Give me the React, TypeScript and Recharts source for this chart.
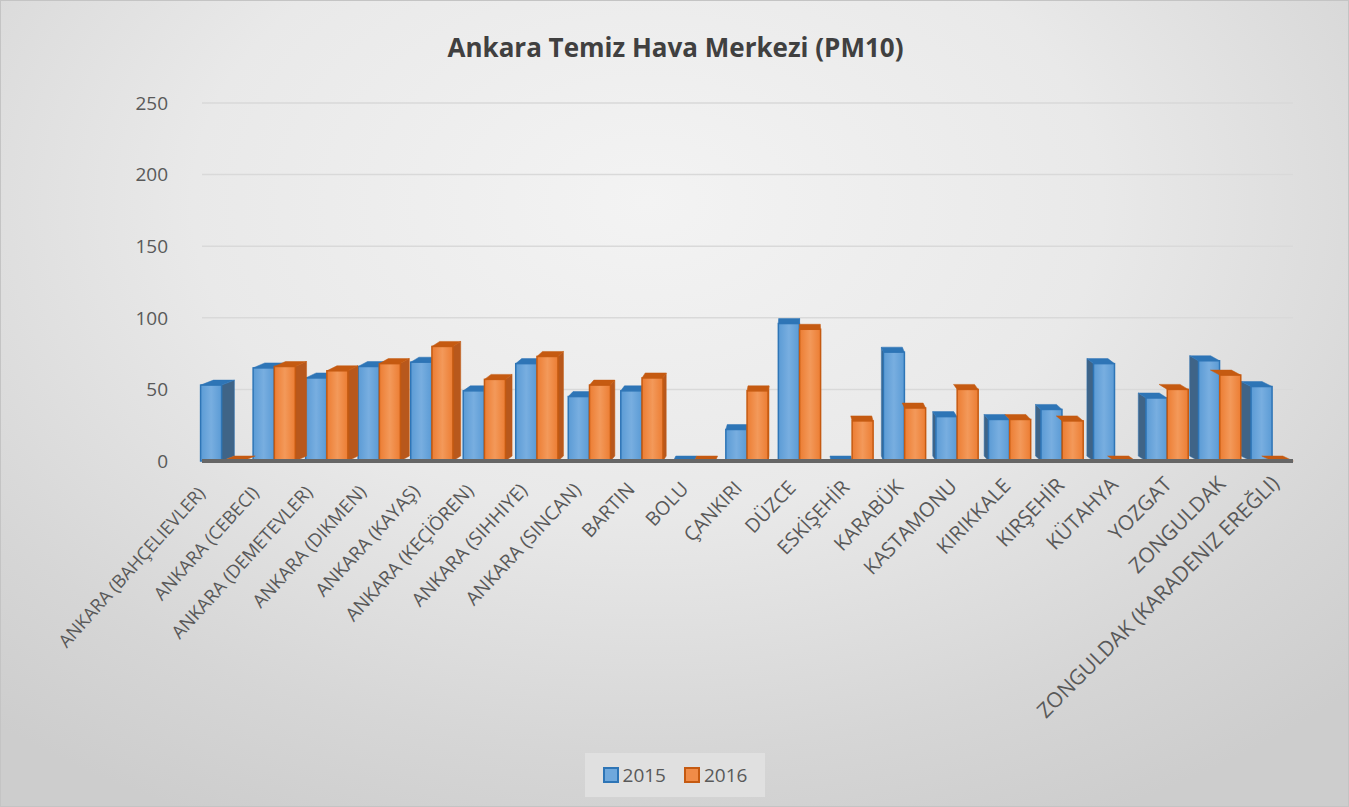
import { BarChart, Bar, XAxis, YAxis, CartesianGrid, Legend } from "recharts";

const stations = [
  "ANKARA (BAHÇELIEVLER)",
  "ANKARA (CEBECI)",
  "ANKARA (DEMETEVLER)",
  "ANKARA (DIKMEN)",
  "ANKARA (KAYAŞ)",
  "ANKARA (KEÇİÖREN)",
  "ANKARA (SIHHIYE)",
  "ANKARA (SINCAN)",
  "BARTIN",
  "BOLU",
  "ÇANKIRI",
  "DÜZCE",
  "ESKİŞEHİR",
  "KARABÜK",
  "KASTAMONU",
  "KIRIKKALE",
  "KIRŞEHİR",
  "KÜTAHYA",
  "YOZGAT",
  "ZONGULDAK",
  "ZONGULDAK (KARADENIZ EREĞLI)",
];
const pm2015 = [53, 65, 58, 66, 69, 49, 68, 45, 49, 0, 22, 96, 0, 76, 31, 29, 36, 68, 44, 70, 52];
const pm2016 = [0, 66, 63, 68, 80, 57, 73, 53, 58, 0, 49, 92, 28, 37, 50, 29, 28, 0, 50, 60, 0];
const yTicks = [0, 50, 100, 150, 200, 250];

const data = stations.map((name, i) => ({ name, "2015": pm2015[i], "2016": pm2016[i] }));

const FONT = "'Open Sans', 'Liberation Sans', sans-serif";
const TEXT = "#595959";

// fake perspective: side depth shrinks and flips going right
const depthAt = (x: number) => (800 - x) * 0.022;

const make3D = (front: string, side: string, top: string, edge: string, hideLeftSide: boolean) =>
  (props: any) => {
    const { x: x0, y, width: w, height } = props;
    const h = Math.max(height || 0, 0);
    const d = depthAt(x0 + w / 2);
    const x = x0 - d / 2;
    const up = 5;
    const topPts = `${x},${y} ${x + w},${y} ${x + w + d},${y - up} ${x + d},${y - up}`;
    if (h < 1) {
      return <polygon points={topPts} fill={top} stroke={edge} strokeWidth={0.5} />;
    }
    const sx = d >= 0 ? x + w : x;
    const showSide = !(hideLeftSide && d < 0);
    return (
      <g>
        {showSide && (
          <polygon
            points={`${sx},${y} ${sx + d},${y - up} ${sx + d},${y + h - up} ${sx},${y + h}`}
            fill={side}
            stroke={edge}
            strokeWidth={0.5}
          />
        )}
        <polygon points={topPts} fill={top} stroke={edge} strokeWidth={0.5} />
        <rect x={x} y={y} width={w} height={h} fill={front} stroke={edge} strokeWidth={1.5} />
      </g>
    );
  };

const Bar2015 = make3D("url(#gBlue)", "#3f6487", "#2e75b6", "#2e75b6", false);
const Bar2016 = make3D("url(#gOrange)", "#b8581c", "#c55a11", "#c55a11", true);

// labels grow a little towards the right, like the perspective in the original
const XTick = (props: any) => {
  const { x, payload } = props;
  const t = (x - 224) / (1265 - 224);
  const tx = x - 22 + (x - 224) * 0.034;
  const ty = 494 - (x - 224) * 0.009;
  const angle = -48 + 3 * t;
  return (
    <text
      x={tx}
      y={ty}
      transform={`rotate(${angle}, ${tx}, ${ty})`}
      textAnchor="end"
      fill={TEXT}
      fontSize={18 + 3 * t}
      fontFamily={FONT}
    >
      {payload.value}
    </text>
  );
};

const LegendBox = () => (
  <div
    style={{
      background: "#e0e0e0",
      height: 44,
      display: "flex",
      alignItems: "center",
      justifyContent: "center",
      gap: 18,
      fontFamily: FONT,
      fontSize: 19,
      color: TEXT,
    }}
  >
    {[
      ["2015", "#6fa8dc", "#2e75b6"],
      ["2016", "#f08c48", "#c55a11"],
    ].map(([label, fill, border]) => (
      <span key={label} style={{ display: "flex", alignItems: "center", gap: 4 }}>
        <span style={{ width: 12, height: 12, background: fill, border: `2px solid ${border}`, display: "inline-block" }} />
        {label}
      </span>
    ))}
  </div>
);

export default function App() {
  return (
    <div
      style={{
        position: "absolute",
        top: 0,
        left: 0,
        width: 1349,
        height: 807,
        boxSizing: "border-box",
        border: "1px solid #c4c4c4",
        background: "radial-gradient(ellipse 75% 85% at 48% 25%, #f3f3f3 0%, #e9e9e9 45%, #d6d6d6 80%, #cdcdcd 100%)",
        overflow: "hidden",
      }}
    >
      <div
        style={{
          position: "absolute",
          top: 28,
          left: 0,
          width: 1349,
          textAlign: "center",
          fontFamily: FONT,
          fontWeight: 700,
          fontSize: 26,
          color: "#404040",
        }}
      >
        Ankara Temiz Hava Merkezi (PM10)
      </div>
      <div style={{ position: "absolute", top: -1, left: -1 }}>
        <BarChart
          width={1349}
          height={807}
          data={data}
          margin={{ top: 103, right: 56, left: 0, bottom: 0 }}
          barGap={0}
          barSize={21}
        >
          <defs>
            <linearGradient id="gBlue" x1="0" y1="0" x2="1" y2="0">
              <stop offset="0%" stopColor="#5b9bd5" />
              <stop offset="50%" stopColor="#78aee0" />
              <stop offset="100%" stopColor="#5b9bd5" />
            </linearGradient>
            <linearGradient id="gOrange" x1="0" y1="0" x2="1" y2="0">
              <stop offset="0%" stopColor="#ec7d33" />
              <stop offset="50%" stopColor="#f3995a" />
              <stop offset="100%" stopColor="#ec7d33" />
            </linearGradient>
          </defs>
          <CartesianGrid vertical={false} stroke="#d9d9d9" strokeWidth={1.5} />
          <XAxis
            dataKey="name"
            interval={0}
            height={346}
            tickLine={false}
            axisLine={{ stroke: "#666666", strokeWidth: 4 }}
            tick={<XTick />}
          />
          <YAxis
            width={202}
            domain={[0, 250]}
            ticks={yTicks}
            axisLine={false}
            tickLine={false}
            tickMargin={28}
            tick={{ fill: TEXT, fontSize: 19, fontFamily: FONT }}
          />
          <Legend
            layout="horizontal"
            verticalAlign="middle"
            align="center"
            wrapperStyle={{ top: 753, left: 585, width: 180, height: 44 }}
            content={<LegendBox />}
          />
          <Bar dataKey="2015" fill="#5b9bd5" isAnimationActive={false} shape={Bar2015} />
          <Bar dataKey="2016" fill="#ed7d31" isAnimationActive={false} shape={Bar2016} />
        </BarChart>
      </div>
    </div>
  );
}
